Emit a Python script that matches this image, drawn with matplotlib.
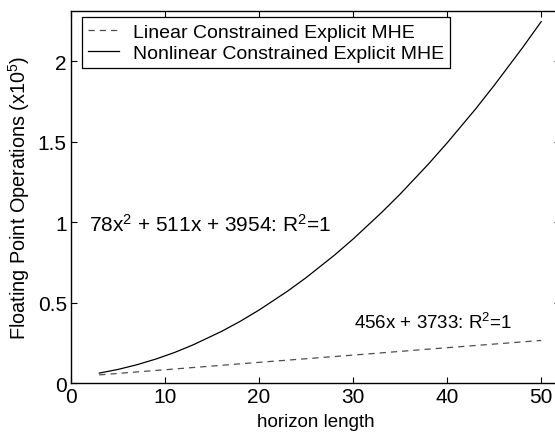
import matplotlib
matplotlib.use('Agg')
import matplotlib.pyplot as plt

plt.rcParams['font.family'] = ['Liberation Sans', 'DejaVu Sans']
plt.rcParams['mathtext.fontset'] = 'custom'
plt.rcParams['mathtext.rm'] = 'Liberation Sans'
plt.rcParams['mathtext.it'] = 'Liberation Sans'

# horizon lengths and flops (x1e5)
x_nonlin = [3, 5, 7, 9, 11, 13, 16, 18, 20, 23, 25, 28, 30, 33, 35, 38, 40, 43, 45, 48, 50]
y_nonlin = [0.062, 0.085, 0.114, 0.149, 0.190, 0.238, 0.321, 0.384, 0.454, 0.570, 0.655,
            0.794, 0.895, 1.058, 1.174, 1.360, 1.492, 1.701, 1.849, 2.082, 2.245]
x_lin = [3, 10, 20, 30, 40, 50]
y_lin = [0.051, 0.083, 0.129, 0.174, 0.220, 0.265]

xticks = [0, 10, 20, 30, 40, 50]
yticks = [0, 0.5, 1, 1.5, 2]
ytick_labels = ['0', '0.5', '1', '1.5', '2']

fig = plt.figure(figsize=(5.55, 4.35), dpi=100)
ax = fig.add_axes([0.128, 0.117, 0.881, 0.855])

ax.plot(x_lin, y_lin, '--', color='0.3', linewidth=0.9, dashes=(5, 4),
        label='Linear Constrained Explicit MHE')
ax.plot(x_nonlin, y_nonlin, '-', color='black', linewidth=0.9,
        label='Nonlinear Constrained Explicit MHE')

ax.set_xlim(0, 52)
ax.set_ylim(0, 2.31)
ax.set_xticks(xticks)
ax.set_yticks(yticks)
ax.set_yticklabels(ytick_labels)
ax.tick_params(direction='in', top=True, right=True, length=4, width=0.8,
               labelsize=15, pad=3)
for s in ax.spines.values():
    s.set_linewidth(1.0)

ax.set_xlabel('horizon length', fontsize=13.5, labelpad=5)
ax.set_ylabel('Floating Point Operations (x10$^{5}$)', fontsize=14.3, labelpad=4)

ax.text(1.9, 0.99, '78x$^{2}$ + 511x + 3954: R$^{2}$=1', fontsize=15, va='center')
ax.text(30.1, 0.38, '456x + 3733: R$^{2}$=1', fontsize=13.5, va='center')

leg = ax.legend(loc='upper left', bbox_to_anchor=(0.0226, 0.984), fontsize=14,
                fancybox=False, edgecolor='black', framealpha=1, borderpad=0.3,
                handlelength=1.6, handletextpad=0.7, labelspacing=0.2,
                borderaxespad=0)
leg.get_frame().set_linewidth(0.9)

fig.savefig('out.png', dpi=100)
